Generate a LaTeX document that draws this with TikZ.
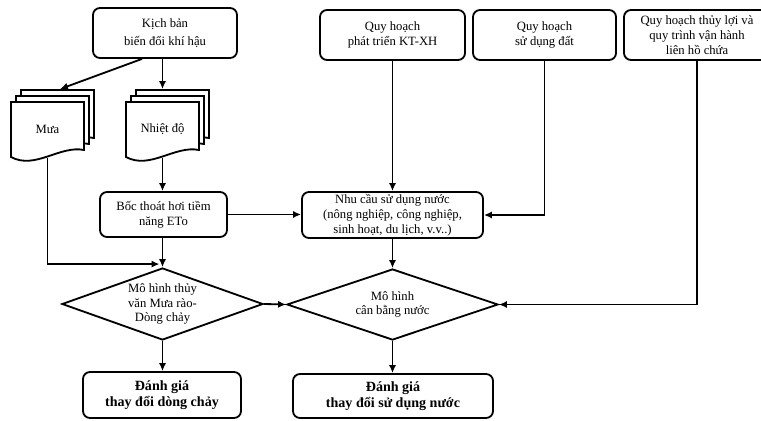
\documentclass[tikz,border=0pt]{standalone}
\usepackage{fontspec}
\setmainfont{Liberation Serif}
\usetikzlibrary{arrows.meta,positioning,shapes.geometric,calc}

\begin{document}
\begin{tikzpicture}[x=0.025cm,y=-0.025cm,>={Latex[length=2mm,width=1.8mm]},line width=1.3pt,
  box/.style={draw,rounded corners=5pt,align=center,inner sep=1pt,font=\fontsize{9}{10.5}\selectfont},
  result/.style={box,font=\bfseries\fontsize{10}{11.5}\selectfont},
  decision/.style={draw,diamond,aspect=2.8,inner sep=0pt,align=center,font=\fontsize{9}{10.5}\selectfont},
  docnode/.style={inner sep=0pt,minimum width=1.825cm,minimum height=1.375cm,font=\fontsize{9}{10.5}\selectfont},
  docpage/.pic={\draw[fill=white] (-36.5,-27.5) -- (36.5,-27.5) -- (36.5,20.5) .. controls (12.5,15.5) and (-12.5,40.5) .. (-36.5,27.5) -- cycle;}]
\useasboundingbox (0,0) rectangle (761,420);
% top inputs
\node[box,minimum width=3.6cm,minimum height=1.25cm] (kichban) at (165,33) {Kịch bản\\[2pt]biến đổi khí hậu};
\node[box,minimum width=3.625cm,minimum height=1.25cm] (ktxh) at (392.5,35) {Quy hoạch\\phát triển KT-XH};
\node[box,minimum width=3.575cm,minimum height=1.25cm] (sddat) at (544.5,35) {Quy hoạch\\sử dụng đất};
\node[box,minimum width=3.65cm,minimum height=1.25cm] (thuyloi) at (697,35) {Quy hoạch thủy lợi và\\quy trình vận hành\\liên hồ chứa};
% document stacks
\foreach \dx/\dy in {10/-12,5/-6,0/0} {
  \pic at ($(47.5,129.5)+(\dx,\dy)$) {docpage};
  \pic at ($(162.5,129.5)+(\dx,\dy)$) {docpage};
}
\node[docnode] (mua) at (47.5,129.5) {Mưa};
\node[docnode] (nhietdo) at (162.5,129.5) {Nhiệt độ};
\coordinate (muatop) at ($(mua.north)+(12.5,-12)$);
\coordinate (nhietdotop) at ($(nhietdo.north)+(0,-12)$);
% middle row
\node[box,minimum width=3.175cm,minimum height=1.125cm] (bocthoat) at (163.5,214.5) {Bốc thoát hơi tiềm\\năng ETo};
\node[box,minimum width=4.525cm,minimum height=1.15cm] (nhucau) at (392.5,215) {Nhu cầu sử dụng nước\\(nông nghiệp, công nghiệp,\\sinh hoạt, du lịch, v.v..)};
% models
\node[decision,minimum width=5.025cm,minimum height=1.8cm] (mh1) at (162.5,304) {Mô hình thủy\\văn Mưa rào-\\Dòng chảy};
\node[decision,minimum width=5.275cm,minimum height=1.775cm] (mh2) at (392.5,304.5) {Mô hình\\cân bằng nước};
% results
\node[result,minimum width=3.95cm,minimum height=1.15cm] (dg1) at (162,395) {Đánh giá\\thay đổi dòng chảy};
\node[result,minimum width=5cm,minimum height=1.1cm] (dg2) at (393,396) {Đánh giá\\thay đổi sử dụng nước};
% connectors
\draw[->] ($(kichban.south)+(-23,0)$) -- (muatop);
\draw[->] (kichban.south -| nhietdotop) -- (nhietdotop);
\draw[->] (nhietdo.south) -- (bocthoat.north -| nhietdo.south);
\draw[->] (mua.south) |- ($(mh1.north)+(-3,-3)$);
\draw[->] (bocthoat.south -| mh1.north) -- (mh1.north);
\draw[->] (bocthoat.east) -- (bocthoat.east -| nhucau.west);
\draw[->] (ktxh.south) -- (nhucau.north -| ktxh.south);
\draw[->] (sddat.south) |- (nhucau.east);
\draw[->] (nhucau.south) -- (mh2.north);
\draw[->] (thuyloi.south) |- (mh2.east);
\draw[->] (mh1.east) -- (mh2.west);
\draw[->] (mh1.south) -- (dg1.north -| mh1.south);
\draw[->] (mh2.south) -- (dg2.north -| mh2.south);
\end{tikzpicture}
\end{document}
